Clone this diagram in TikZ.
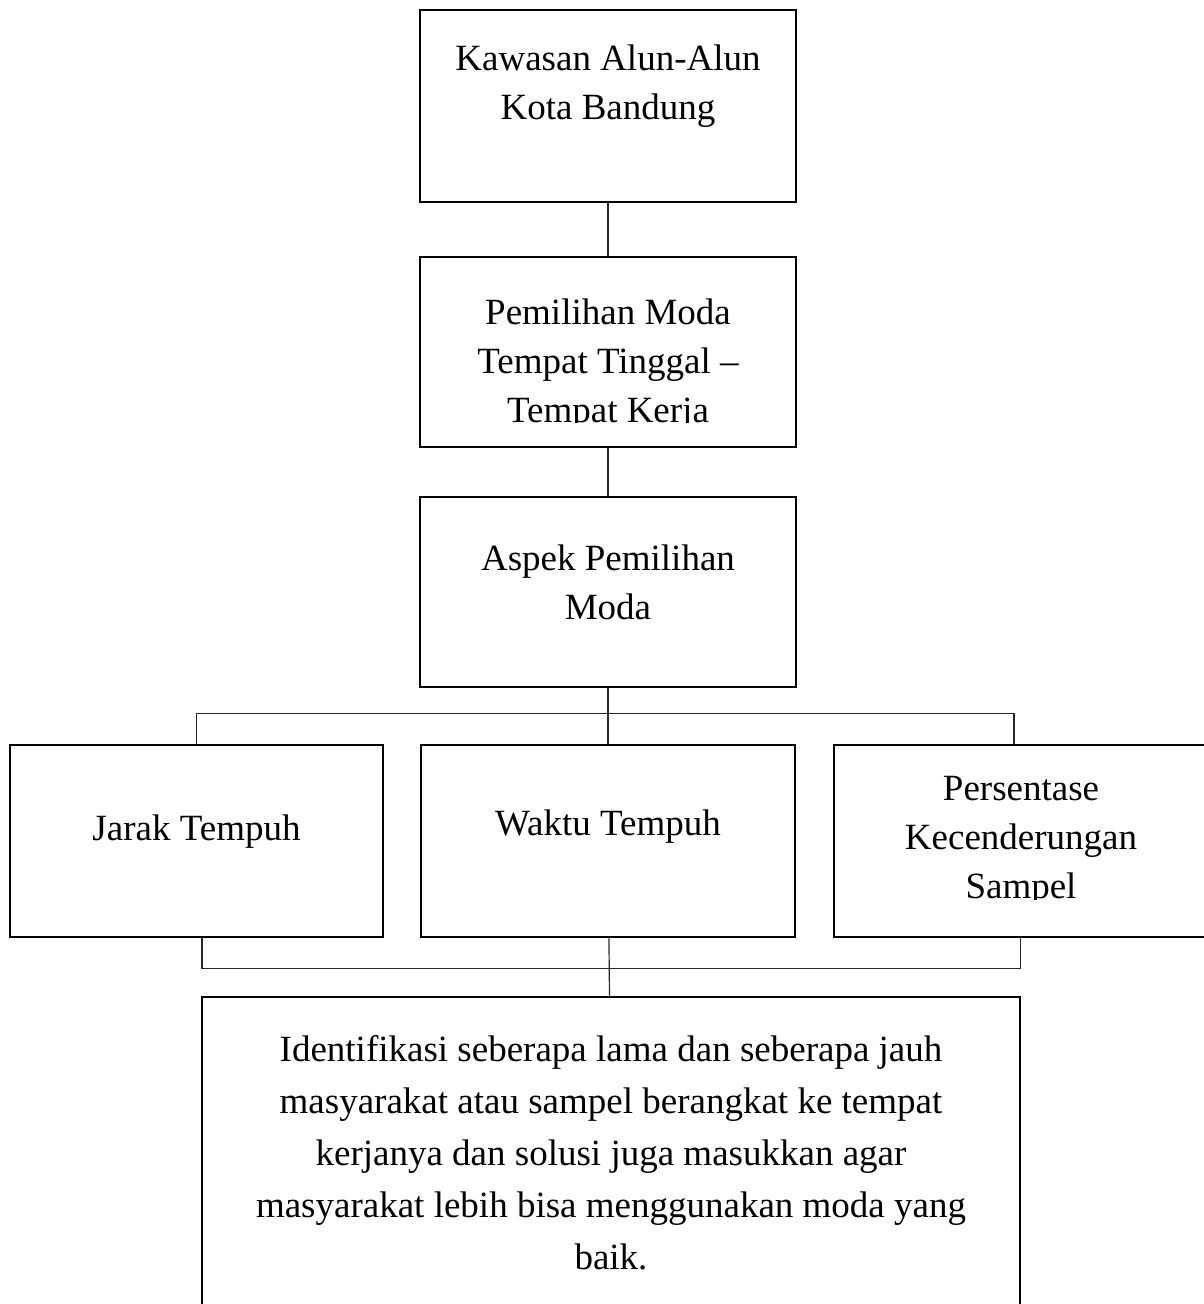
\documentclass[tikz,border=0pt]{standalone}
\usepackage{fontspec}
\setmainfont{Liberation Serif}
\usetikzlibrary{positioning}
\tikzset{
  box/.style={rectangle,draw=black,line width=1.3pt,inner sep=0pt},
  txt/.style={align=center,inner sep=0pt,text=black,
              font=\fontsize{18.5}{24.5}\selectfont},
  link/.style={line width=0.6pt,draw=black!85},
}

\begin{document}
\begin{tikzpicture}[x=0.5pt,y=-0.5pt]
  \useasboundingbox (0,0) rectangle (1203,1304);
  % boxes
  \node[box,minimum width=188pt,minimum height=96pt]    (b1) at (608,106)     {};
  \node[box,minimum width=188pt,minimum height=95pt]    (b2) at (608,352)     {};
  \node[box,minimum width=188pt,minimum height=95pt]    (b3) at (608,592)     {};
  \node[box,minimum width=186.5pt,minimum height=96pt]  (b4) at (196.5,841)   {};
  \node[box,minimum width=187pt,minimum height=96pt]    (b5) at (608,841)     {};
  \node[box,minimum width=186.5pt,minimum height=96pt]  (b6) at (1020.5,841)  {};
  \node[box,minimum width=409pt,minimum height=157.5pt] (b7) at (611,1154.5)  {};
  % connectors
  \draw[link] (b1) -- (b2);
  \draw[link] (b2) -- (b3);
  \draw[link] (b3) -- (b5);
  \draw[link] (b4.north) -- ++(0,-30) -| ([xshift=-3.25pt]b6.north);
  \draw[link] (b5) -- (b7);
  \draw[link] ([xshift=2.75pt]b4.south) -- ++(0,30) -| (b6.south);
  % texts
  \node[txt] (t1) at (608,86.5) {Kawasan Alun-Alun\\Kota Bandung};
  \begin{scope}
    \clip (b2.north west) rectangle ([yshift=13pt]b2.south east);
    \node[txt] (t2) at (608,364.5) {Pemilihan Moda\\Tempat Tinggal –\\Tempat Kerja};
  \end{scope}
  \node[txt] (t3) at (608,582) {Aspek Pemilihan\\Moda};
  \node[txt] (t4) at (196.5,831.5) {Jarak Tempuh};
  \node[txt] (t5) at (608,826.5) {Waktu Tempuh};
  \begin{scope}
    \clip (b6.north west) rectangle ([yshift=19.5pt]b6.south east);
    \node[txt] (t6) at (1021,841.5) {Persentase\\Kecenderungan\\Sampel};
  \end{scope}
  \node[txt,font=\fontsize{18.5}{26}\selectfont] (t7) at (611,1153) {Identifikasi seberapa lama dan seberapa jauh\\
    masyarakat atau sampel berangkat ke tempat\\
    kerjanya dan solusi juga masukkan agar\\
    masyarakat lebih bisa menggunakan moda yang\\
    baik.};
\end{tikzpicture}
\end{document}
